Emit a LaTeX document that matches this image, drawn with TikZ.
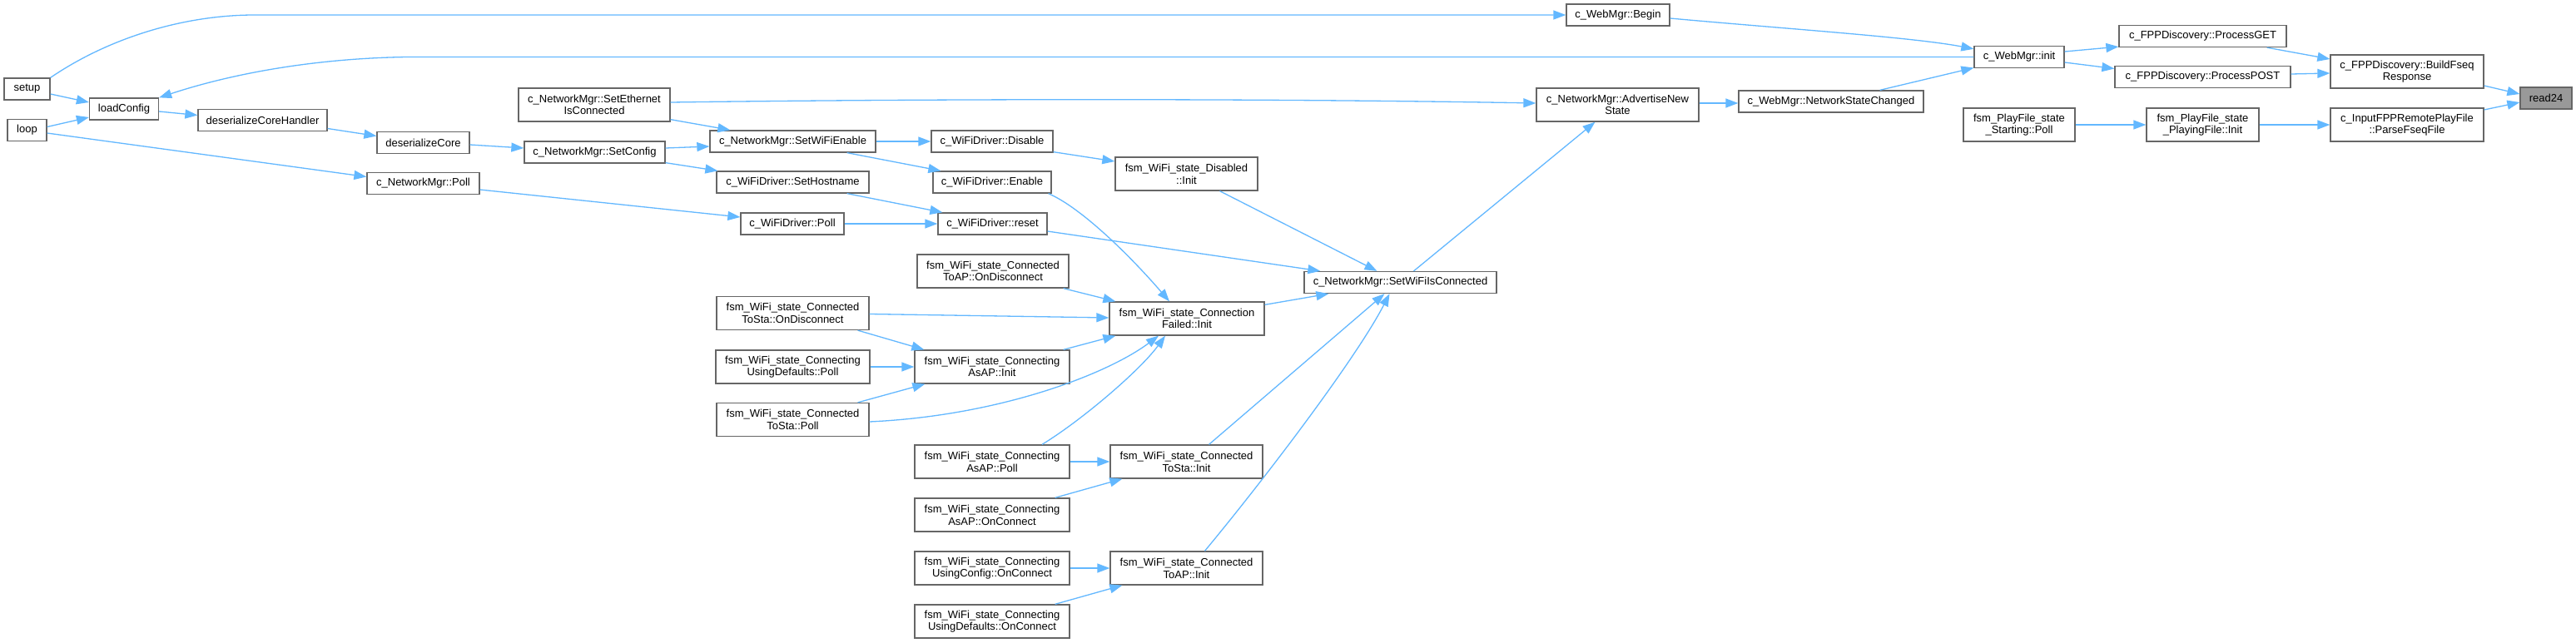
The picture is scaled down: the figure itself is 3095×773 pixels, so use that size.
\documentclass[tikz,border=0pt]{standalone}
\usepackage{fontspec}
\setmainfont{Liberation Sans}
\usetikzlibrary{arrows.meta,calc}
\definecolor{edgeblue}{HTML}{63B8FF}
\definecolor{nodegray}{HTML}{666666}
\definecolor{hlgray}{HTML}{999999}
\begin{document}
\begin{tikzpicture}[x=1pt,y=-1pt,
 fn/.style={draw=nodegray, fill=white, line width=1.3pt, inner sep=0pt, align=center, font=\fontsize{13}{14.7}\selectfont},
 one/.style={fn, minimum height=26pt},
 two/.style={fn, minimum height=40pt},
 cl/.style={draw=edgeblue, line width=1.3pt, -{Triangle[length=15pt,width=11pt]}}]
\fill[white] (0,0) rectangle (3095,773);
\useasboundingbox (0,0) rectangle (3095,773);

% nodes
\node[one, minimum width=55] (setup) at (32.5,107) {setup};
\node[one, minimum width=47] (loop) at (32.5,156.5) {loop};
\node[one, minimum width=83] (loadConfig) at (149,131) {loadConfig};
\node[one, minimum width=155] (dCH) at (315.5,144.5) {deserializeCoreHandler};
\node[one, minimum width=111] (dC) at (508.5,171.5) {deserializeCore};
\node[one, minimum width=135] (netpoll) at (508.5,220.5) {c\_NetworkMgr::Poll};
\node[two, minimum width=182] (seteth) at (714,126) {c\_NetworkMgr::SetEthernet\\IsConnected};
\node[one, minimum width=169] (setcfg) at (714.5,183) {c\_NetworkMgr::SetConfig};
\node[one, minimum width=199] (swe) at (952.5,170) {c\_NetworkMgr::SetWiFiEnable};
\node[one, minimum width=183] (sethost) at (952.5,219) {c\_WiFiDriver::SetHostname};
\node[one, minimum width=124] (wpoll) at (952,269) {c\_WiFiDriver::Poll};
\node[two, minimum width=183] (tsondisc) at (952.5,376.5) {fsm\_WiFi\_state\_Connected\\ToSta::OnDisconnect};
\node[two, minimum width=185] (udpoll) at (952.5,441) {fsm\_WiFi\_state\_Connecting\\UsingDefaults::Poll};
\node[two, minimum width=183] (tspoll) at (952.5,504.5) {fsm\_WiFi\_state\_Connected\\ToSta::Poll};
\node[one, minimum width=146] (disable) at (1192,170) {c\_WiFiDriver::Disable};
\node[one, minimum width=142] (enable) at (1192,219) {c\_WiFiDriver::Enable};
\node[one, minimum width=131] (reset) at (1192.5,269) {c\_WiFiDriver::reset};
\node[two, minimum width=182] (taondisc) at (1193,326) {fsm\_WiFi\_state\_Connected\\ToAP::OnDisconnect};
\node[two, minimum width=186] (aapinit) at (1192,441) {fsm\_WiFi\_state\_Connecting\\AsAP::Init};
\node[two, minimum width=186] (aappoll) at (1192,555) {fsm\_WiFi\_state\_Connecting\\AsAP::Poll};
\node[two, minimum width=186] (aaponc) at (1192,619) {fsm\_WiFi\_state\_Connecting\\AsAP::OnConnect};
\node[two, minimum width=186] (uconc) at (1192,683) {fsm\_WiFi\_state\_Connecting\\UsingConfig::OnConnect};
\node[two, minimum width=186] (udonc) at (1192,747) {fsm\_WiFi\_state\_Connecting\\UsingDefaults::OnConnect};
\node[two, minimum width=171] (disinit) at (1425.5,209) {fsm\_WiFi\_state\_Disabled\\::Init};
\node[two, minimum width=186] (cf) at (1426,383) {fsm\_WiFi\_state\_Connection\\Failed::Init};
\node[two, minimum width=183] (tsinit) at (1425.5,555) {fsm\_WiFi\_state\_Connected\\ToSta::Init};
\node[two, minimum width=183] (tainit) at (1425.5,683) {fsm\_WiFi\_state\_Connected\\ToAP::Init};
\node[one, minimum width=231] (swic) at (1682.5,339.5) {c\_NetworkMgr::SetWiFiIsConnected};
\node[two, minimum width=195] (ans) at (1943.5,126) {c\_NetworkMgr::AdvertiseNew\\State};
\node[one, minimum width=124] (begin) at (1944,18) {c\_WebMgr::Begin};
\node[one, minimum width=222] (nsc) at (2200,122) {c\_WebMgr::NetworkStateChanged};
\node[one, minimum width=108] (init) at (2426,68.5) {c\_WebMgr::init};
\node[two, minimum width=134] (startpoll) at (2426,150) {fsm\_PlayFile\_state\\\_Starting::Poll};
\node[one, minimum width=201] (pget) at (2646.5,43.5) {c\_FPPDiscovery::ProcessGET};
\node[one, minimum width=211] (ppost) at (2646.5,92.5) {c\_FPPDiscovery::ProcessPOST};
\node[two, minimum width=135] (playinit) at (2646.5,150) {fsm\_PlayFile\_state\\\_PlayingFile::Init};
\node[two, minimum width=184] (bfr) at (2892,86) {c\_FPPDiscovery::BuildFseq\\Response};
\node[two, minimum width=184] (pff) at (2892,150) {c\_InputFPPRemotePlayFile\\::ParseFseqFile};
\node[one, minimum width=62, fill=hlgray] (read24) at (3059,118) {read24};

% edges
\draw[cl] ($(setup.east)+(0,6)$) -- ($(loadConfig.west)+(0,-8)$);
\draw[cl] ($(loop.east)+(0,-4)$) -- ($(loadConfig.west)+(0,10)$);
\draw[cl] (setup.north east) .. controls (130,46) and (220,18) .. (306,18) -- (begin.west);
\draw[cl] (init.west) -- (490,68.5) .. controls (380,70) and (280,88) .. (loadConfig.north east);
\draw[cl] ($(loop.east)+(0,3.5)$) -- ($(netpoll.west)+(0,-8)$);
\draw[cl] ($(loadConfig.east)+(0,3)$) -- ($(dCH.west)+(0,-6)$);
\draw[cl] ($(dCH.east)+(0,10)$) -- ($(dC.west)+(0,-8)$);
\draw[cl] ($(dC.east)+(0,2.5)$) -- ($(setcfg.west)+(0,-5)$);
\draw[cl] ($(setcfg.east)+(0,-5)$) -- ($(swe.west)+(0,6)$);
\draw[cl] ($(setcfg.south east)+(0,-1)$) -- ($(sethost.north west)+(2,0)$);
\draw[cl] ($(seteth.south east)+(0,-3)$) -- ($(swe.north west)+(25,0)$);
\draw[cl] ($(seteth.east)+(0,-3)$) .. controls (1100,119) and (1500,118) .. ($(ans.west)+(0,-2)$);
\draw[cl] (swe.east) -- (disable.west);
\draw[cl] ($(swe.south east)+(-35,0)$) -- ($(enable.north west)+(10,0)$);
\draw[cl] ($(disable.south east)+(0,-1)$) -- ($(disinit.west)+(0,-15)$);
\draw[cl] ($(enable.south east)+(-4,0)$) .. controls (1300,250) and (1360,310) .. ($(cf.north)+(-21,0)$);
\draw[cl] ($(sethost.south east)+(-27,0)$) -- ($(reset.north west)+(6,0)$);
\draw[cl] ($(netpoll.east)+(0,7.5)$) -- ($(wpoll.west)+(0,-8)$);
\draw[cl] (wpoll.east) -- (reset.west);
\draw[cl] ($(reset.east)+(0,9)$) -- ($(swic.north west)+(20,0)$);
\draw[cl] ($(disinit.south)+(40,0)$) -- ($(swic.north)+(-28,0)$);
\draw[cl] ($(taondisc.south east)+(-7,0)$) -- ($(cf.north west)+(8,0)$);
\draw[cl] ($(tsondisc.east)+(0,1)$) -- ($(cf.west)+(0,-1)$);
\draw[cl] ($(tsondisc.south east)+(-14,0)$) -- ($(aapinit.north west)+(12,0)$);
\draw[cl] (udpoll.east) -- (aapinit.west);
\draw[cl] ($(tspoll.north east)+(-14,0)$) -- ($(aapinit.south west)+(13,0)$);
\draw[cl] ($(tspoll.east)+(0,2.5)$) .. controls (1200,500) and (1330,450) .. ($(cf.south)+(-34,0)$);
\draw[cl] ($(aapinit.north east)+(-8,0)$) -- ($(cf.south west)+(8,0)$);
\draw[cl] ($(aappoll.north)+(60,0)$) .. controls (1300,505) and (1370,445) .. ($(cf.south)+(-26,0)$);
\draw[cl] (aappoll.east) -- (tsinit.west);
\draw[cl] ($(aaponc.north east)+(-18,0)$) -- ($(tsinit.south west)+(15,0)$);
\draw[cl] (uconc.east) -- (tainit.west);
\draw[cl] ($(udonc.north east)+(-18,0)$) -- ($(tainit.south west)+(15,0)$);
\draw[cl] ($(cf.north east)+(0,4)$) -- ($(swic.south west)+(30,0)$);
\draw[cl] ($(tsinit.north)+(27,0)$) -- ($(swic.south)+(-19,0)$);
\draw[cl] ($(tainit.north)+(22,0)$) .. controls (1520,575) and (1630,430) .. ($(swic.south)+(-13,0)$);
\draw[cl] ($(swic.north)+(16,0)$) -- ($(ans.south)+(-27,0)$);
\draw[cl] ($(ans.east)+(0,-2)$) -- ($(nsc.west)+(0,2)$);
\draw[cl] ($(nsc.north east)+(-53,0)$) -- ($(init.west)+(0,13)$);
\draw[cl] ($(begin.east)+(0,4)$) .. controls (2150,35) and (2300,45) .. ($(init.north west)+(0,4)$);
\draw[cl] ($(init.east)+(0,-6.5)$) -- ($(pget.south west)+(0,-1)$);
\draw[cl] ($(init.east)+(0,6.5)$) -- ($(ppost.west)+(0,-10)$);
\draw[cl] ($(pget.south east)+(-24,0)$) -- ($(bfr.west)+(0,-15)$);
\draw[cl] ($(ppost.east)+(0,-3.5)$) -- ($(bfr.west)+(0,2)$);
\draw[cl] ($(bfr.east)+(0,17)$) -- ($(read24.west)+(0,-5)$);
\draw[cl] ($(pff.east)+(0,-18)$) -- ($(read24.west)+(0,5)$);
\draw[cl] (startpoll.east) -- (playinit.west);
\draw[cl] (playinit.east) -- (pff.west);
\end{tikzpicture}
\end{document}
